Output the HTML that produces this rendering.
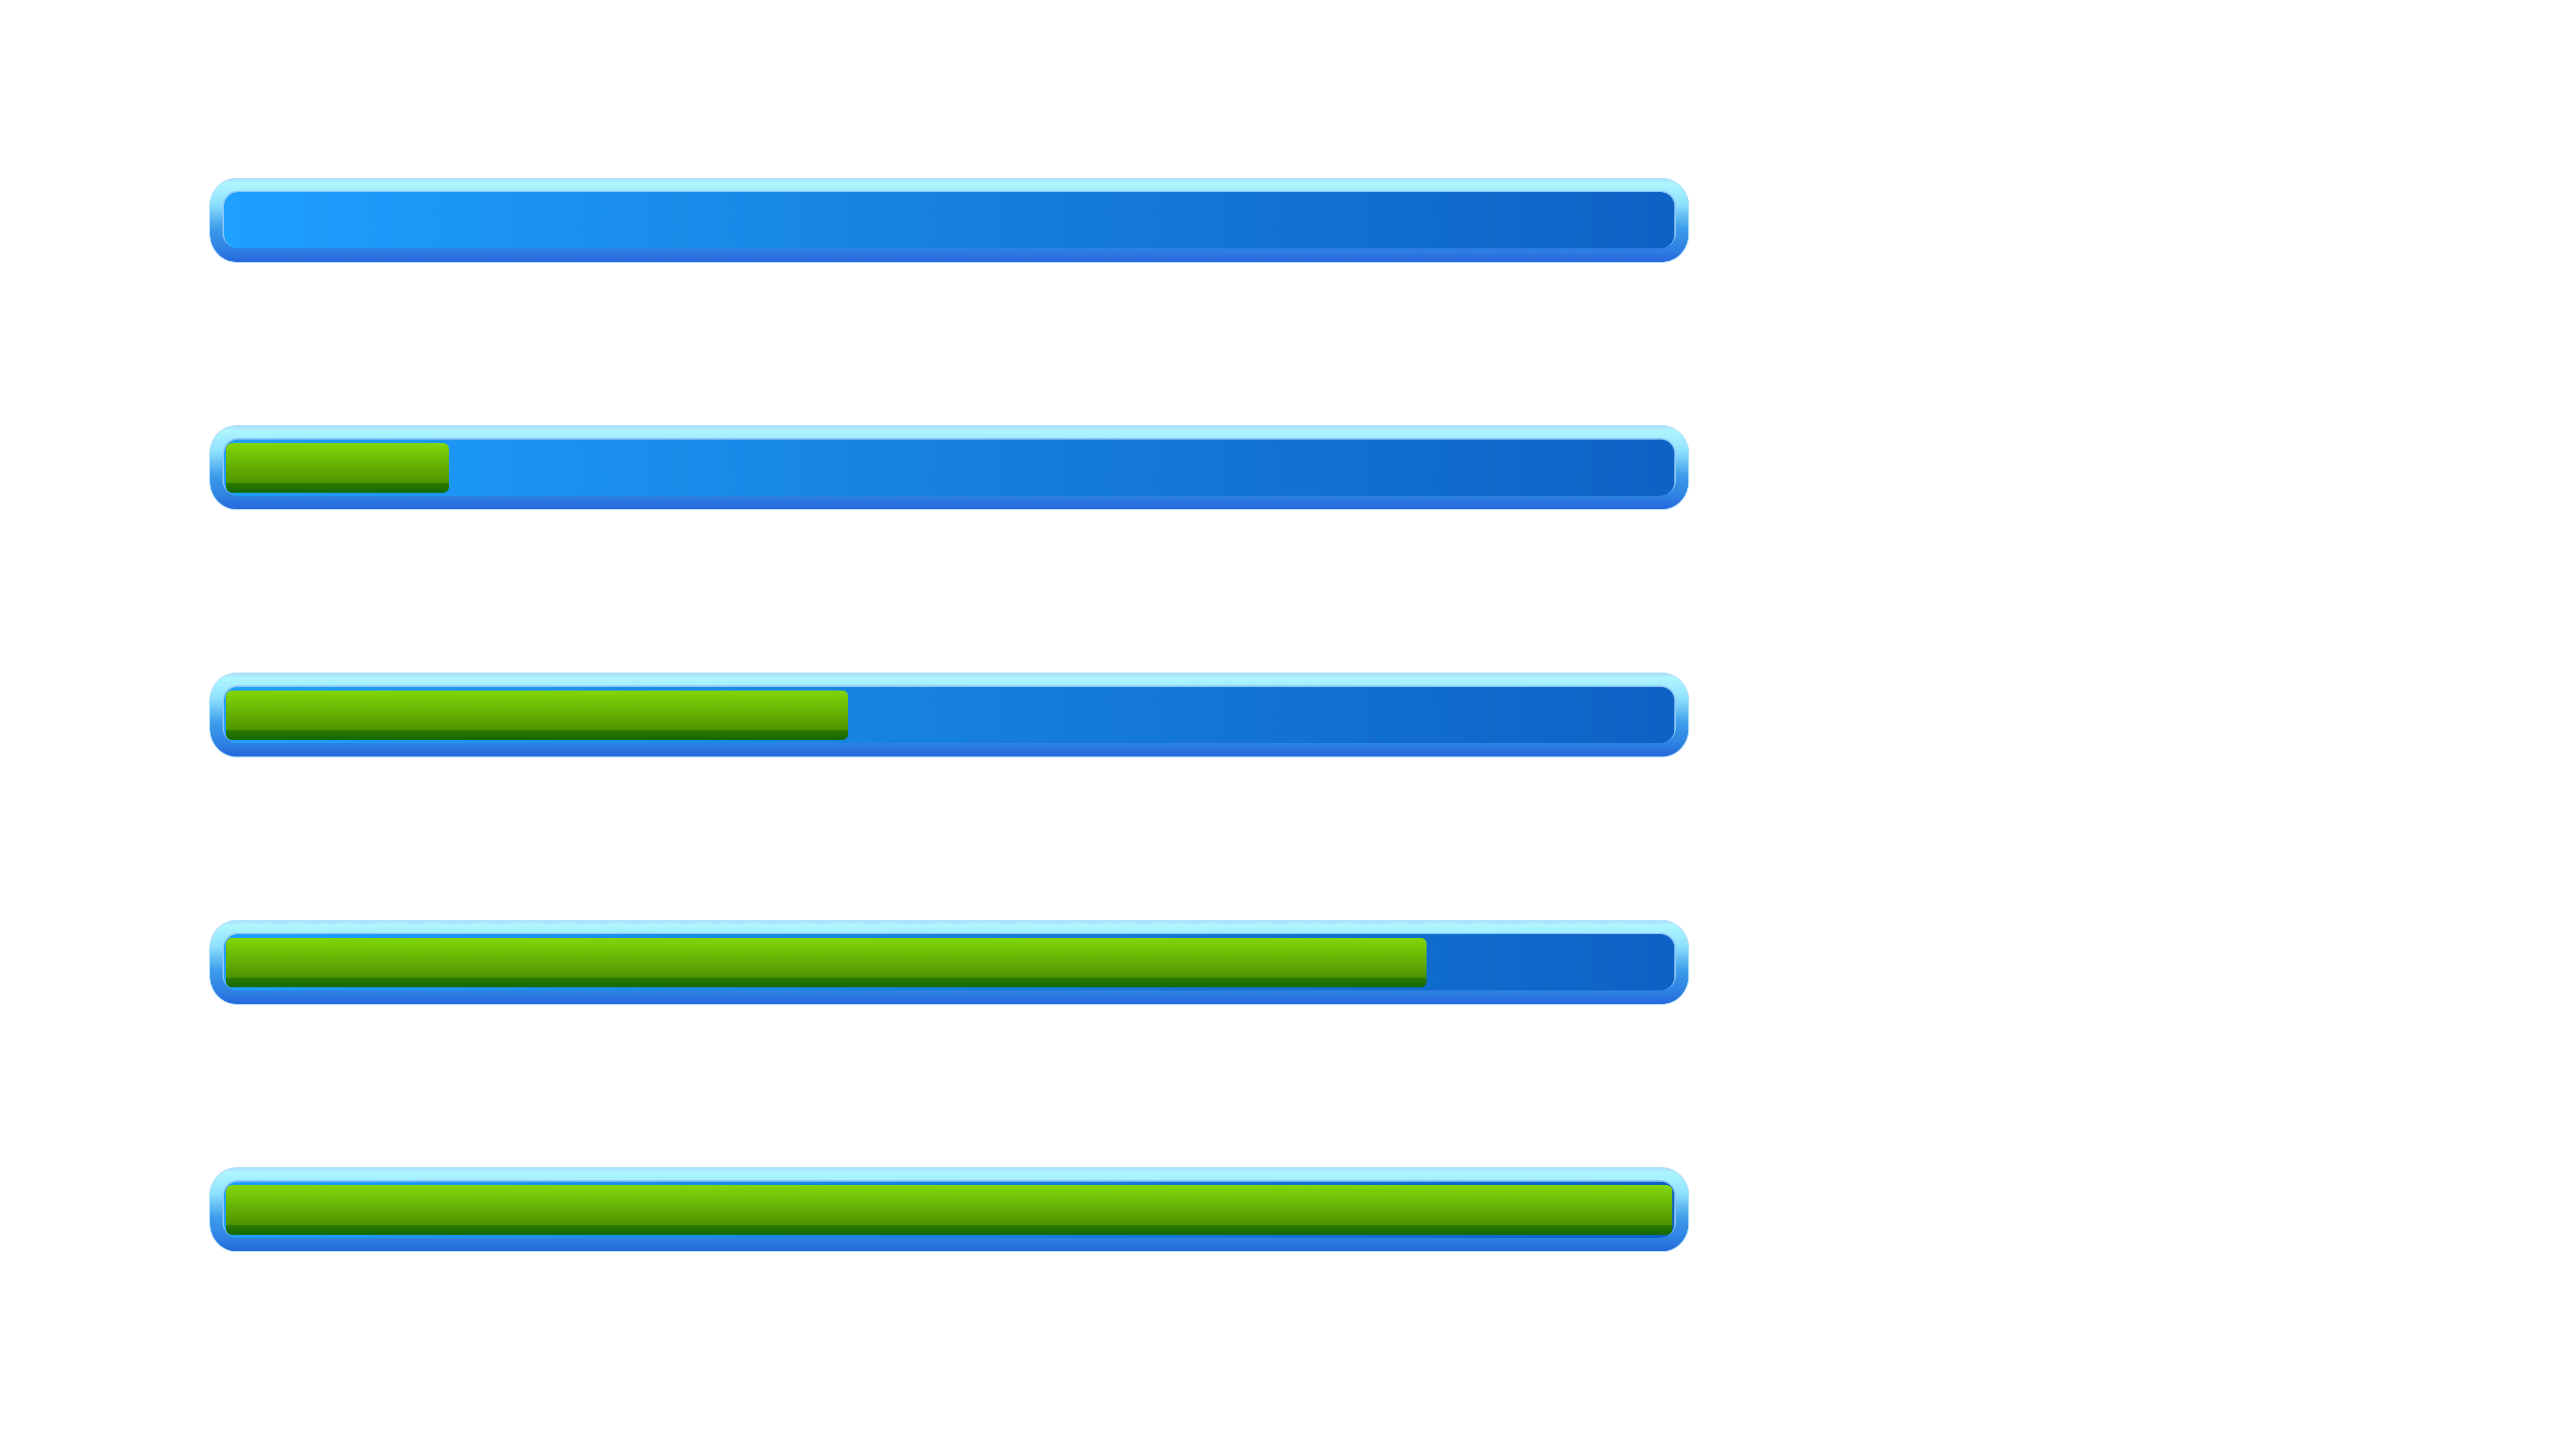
<!DOCTYPE html>
<html><head><meta charset="utf-8"><style>
html,body{margin:0;padding:0;background:#fff;width:5550px;height:2775px;overflow:hidden}
</style></head><body>
<svg id="chart" width="5550" height="2775" viewBox="0 0 5550 2775" xmlns="http://www.w3.org/2000/svg">
<defs>
<linearGradient id="outerG" x1="0" y1="0" x2="0" y2="1">
<stop offset="0" stop-color="#a9ddfb"/><stop offset="0.06" stop-color="#aef6fe"/>
<stop offset="0.3" stop-color="#8fe2fd"/><stop offset="0.6" stop-color="#3c9cea"/>
<stop offset="0.85" stop-color="#2e80e2"/><stop offset="1" stop-color="#2566dc"/>
</linearGradient>
<linearGradient id="innerG" x1="0" y1="0" x2="1" y2="0">
<stop offset="0" stop-color="#1ea0ff"/><stop offset="0.5" stop-color="#1680de"/><stop offset="1" stop-color="#0d62c4"/>
</linearGradient>
<linearGradient id="greenG" x1="0" y1="0" x2="0" y2="1">
<stop offset="0" stop-color="#82d60a"/><stop offset="0.8" stop-color="#4f9400"/>
<stop offset="0.81" stop-color="#2a7a00"/><stop offset="1" stop-color="#156800"/>
</linearGradient>
</defs>
<g id="bars"></g>
</svg>
<script>
const categories = ["bar-0", "bar-15", "bar-43", "bar-83", "bar-100"];
const values = [0, 15.4, 43, 83, 100];
const maxValue = [100];

const NS = "http://www.w3.org/2000/svg";
const g = document.getElementById("bars");
const x0 = 407, x1 = 3278, top0 = 346, step = 480, H = 163;
const innerL = 435, innerR = 3250;
function xScale(v){ return innerL + 4 + (innerR - 4 - innerL - 4) * v / maxValue[0]; }
function mk(tag, attrs){ const e = document.createElementNS(NS, tag); for (const k in attrs) e.setAttribute(k, attrs[k]); return e; }
categories.forEach((c, i) => {
  const y = top0 + step * i;
  const grp = mk("g", {});
  
  
  const outer = mk("rect", {x: x0, y: y, width: x1 - x0, height: H, rx: 52, ry: 55, fill: "url(#outerG)", stroke: "#b4e0fb", "stroke-width": 2});
  
  
  grp.appendChild(outer);
  const ring = mk("rect", {x: innerL - 3, y: y + 24, width: innerR - innerL + 6, height: 112, rx: 30, ry: 30, fill: "#8ec8f9"});
  
  
  grp.appendChild(ring);
  const inner = mk("rect", {x: innerL, y: y + 27, width: innerR - innerL, height: 109, rx: 27, ry: 27, fill: "url(#innerG)"});
  
  
  grp.appendChild(inner);
  if (values[i] > 0) {
    const w = xScale(values[i]) - xScale(0);
    const fill = mk("rect", {x: xScale(0), y: y + 34, width: w, height: 96, rx: 11, ry: 11, fill: "url(#greenG)"});
    
    
    grp.appendChild(fill);
  }
  g.appendChild(grp);
});
</script>
</body></html>
